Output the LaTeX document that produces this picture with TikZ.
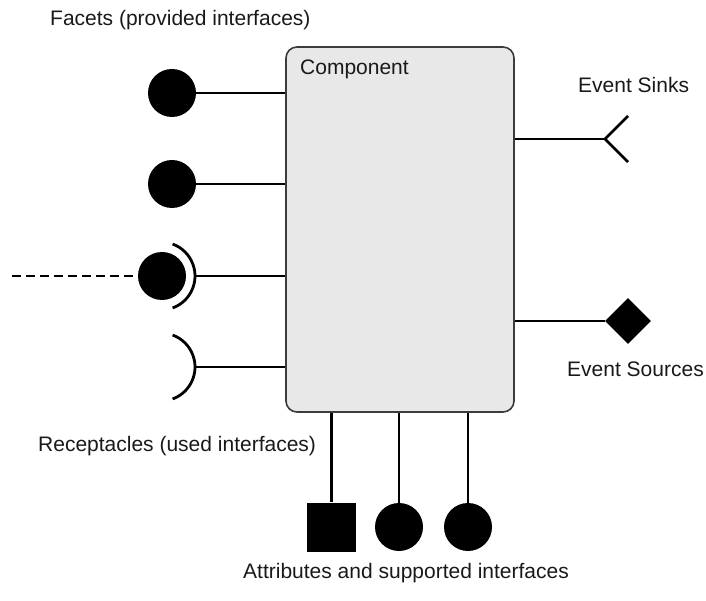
\documentclass[tikz,border=0pt]{standalone}
\usepackage{fontspec}
\setmainfont{Liberation Sans}
\usepackage{tikz}
\usepackage{xcolor}
\usetikzlibrary{shapes.geometric}
\definecolor{compfill}{RGB}{232,232,232}
\definecolor{compdraw}{RGB}{60,60,60}

\begin{document}
\begin{tikzpicture}[
  x=1pt, y=1pt,
  font=\fontsize{21}{25}\selectfont,
  label/.style={anchor=base west, inner sep=0pt, text=black!90},
  compbox/.style={
    draw=compdraw, line width=1.6pt, rounded corners=11pt, fill=compfill,
    minimum width=228pt, minimum height=365pt, inner sep=0pt
  },
  ball/.style={circle, fill=black, minimum size=48pt, inner sep=0pt},
  block/.style={rectangle, fill=black, minimum size=49pt, inner sep=0pt},
  gem/.style={diamond, fill=black, minimum size=46pt, inner sep=0pt},
  wire/.style={line width=2.8pt},
  link/.style={line width=2.8pt, dash pattern=on 9pt off 5pt},
]

\useasboundingbox (0,0) rectangle (706,600);

%% ─── Component body ──────────────────────────────────────────────────────────

\node[compbox] (comp) at (400, 370.5) {};
\node[label] (compname) at (300, 525) {Component};

%% ─── Facets ──────────────────────────────────────────────────────────────────

\node[label] (facettxt) at (50, 574) {Facets (provided interfaces)};

\node[ball] (f1) at (172, 507) {};
\node[ball] (f2) at (172, 416) {};

\foreach \nd in {f1, f2}{
  \draw[wire] (\nd) -- (\nd -| comp.west);
}

%% ─── Receptacles ─────────────────────────────────────────────────────────────

\coordinate (r1) at (161, 324);
\coordinate (r2) at (161, 233);
\coordinate (r1end) at (12, 324);

\node[ball] (plug) at (162, 324) {};
\draw[link] (r1end) -- (plug.west);

\foreach \nd in {r1, r2}{
  \draw[wire] ([shift={(-70:34)}]\nd) arc[start angle=-70, end angle=70, radius=34];
  \draw[wire] ([xshift=34pt]\nd) -- (\nd -| comp.west);
}

\node[label] (recptxt) at (38, 149) {Receptacles (used interfaces)};

%% ─── Event sinks and sources ─────────────────────────────────────────────────

\node[label] (sinktxt) at (578, 507) {Event Sinks};

\coordinate (sink)  at (605, 461);
\coordinate (sinka) at (628, 484);
\coordinate (sinkb) at (628, 438);

\draw[wire] (sink -| comp.east) -- (sink);
\draw[wire] (sinka) -- (sink) -- (sinkb);

\node[gem] (src) at (628, 279) {};
\draw[wire] (src -| comp.east) -- (src);

\node[label] (srctxt) at (567, 224) {Event Sources};

%% ─── Attributes and supported interfaces ─────────────────────────────────────

\node[block] (a1) at (331.5, 73) {};
\node[ball]  (a2) at (399, 73) {};
\node[ball]  (a3) at (468, 73) {};

\foreach \nd in {a1, a2, a3}{
  \draw[wire] (\nd |- comp.south) -- (\nd);
}

\node[label] (attrtxt) at (243, 22) {Attributes and supported interfaces};

\end{tikzpicture}
\end{document}
